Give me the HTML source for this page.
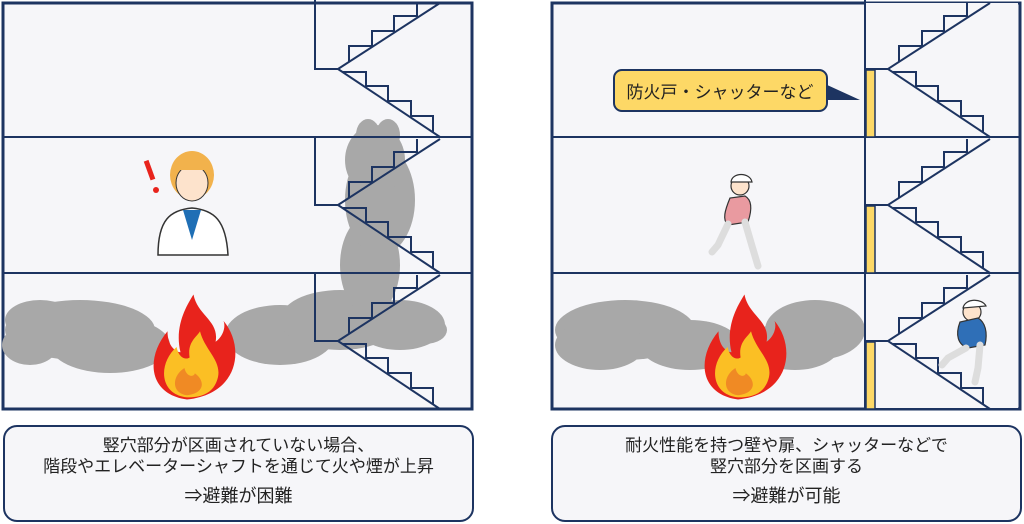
<!DOCTYPE html>
<html><head><meta charset="utf-8"><style>
body{margin:0;width:1024px;height:524px;background:#fff;overflow:hidden;font-family:"Liberation Sans","Noto Sans CJK JP",sans-serif;}
.box{position:absolute;top:425px;height:93px;border:2px solid #1d3461;border-radius:14px;background:#f6f6f9;text-align:center;color:#222;font-size:17px;}
.box .l{line-height:21px}
</style></head><body>
<svg width="1024" height="524" style="position:absolute;left:0;top:0">
<defs>
<g id="st" fill="none" stroke="#1d3461" stroke-width="2">
<polyline points="315,0 315,69 338,69"/>
<line x1="338" y1="69" x2="440" y2="3"/>
<line x1="338" y1="69" x2="440" y2="137"/>
<polyline points="349,62 349,46 372,46 372,31 394,31 394,16 417,16 417,3"/>
<polyline points="343,72 366,72 366,86 388,86 388,101 411,101 411,116 433,116 433,132"/>
</g>
<g id="fire">
<path d="M0,50 C-30,45 -32,10 -15,-15 C-15,0 -8,5 -5,5 C-10,-20 0,-40 5,-50 C8,-30 25,-25 22,-5 C28,-10 30,-20 28,-25 C45,0 40,45 0,50Z" fill="#e8231c"/>
<path d="M0,48 C-22,45 -22,15 -8,0 C-6,12 0,12 2,10 C0,-5 8,-10 10,-15 C14,5 30,15 22,35 C18,45 10,48 0,48Z" fill="#fbbf24"/>
<path d="M0,46 C-12,44 -12,28 -2,20 C0,30 6,28 6,25 C14,32 14,44 0,46Z" fill="#f08a24"/>
</g>
</defs>
<rect x="3" y="3" width="469" height="406" fill="#f6f6f9" stroke="#1d3461" stroke-width="3"/>
<rect x="552" y="3" width="468" height="406" fill="#f6f6f9" stroke="#1d3461" stroke-width="3"/>
<g fill="#a8a8a8">
<ellipse cx="80" cy="330" rx="75" ry="30"/><ellipse cx="40" cy="320" rx="35" ry="20"/><ellipse cx="110" cy="345" rx="60" ry="28"/><ellipse cx="30" cy="345" rx="28" ry="20"/>
<ellipse cx="280" cy="335" rx="55" ry="30"/><ellipse cx="340" cy="320" rx="60" ry="30"/><ellipse cx="400" cy="325" rx="45" ry="25"/><ellipse cx="425" cy="330" rx="22" ry="14"/>
<ellipse cx="370" cy="265" rx="30" ry="50"/><ellipse cx="380" cy="200" rx="35" ry="55"/><ellipse cx="375" cy="160" rx="30" ry="35"/><ellipse cx="368" cy="135" rx="12" ry="16"/><ellipse cx="388" cy="135" rx="12" ry="16"/>
<ellipse cx="625" cy="330" rx="70" ry="30"/><ellipse cx="600" cy="345" rx="45" ry="25"/><ellipse cx="690" cy="345" rx="50" ry="25"/>
<ellipse cx="815" cy="330" rx="50" ry="30"/><ellipse cx="795" cy="345" rx="45" ry="25"/>
</g>
<line x1="3" y1="137" x2="472" y2="137" stroke="#1d3461" stroke-width="2"/>
<line x1="3" y1="273" x2="472" y2="273" stroke="#1d3461" stroke-width="2"/>
<use href="#st"/><use href="#st" y="136"/><use href="#st" y="272"/>
<rect x="866" y="3" width="152" height="405" fill="#f6f6f9"/>
<line x1="552" y1="137" x2="1020" y2="137" stroke="#1d3461" stroke-width="2"/>
<line x1="552" y1="273" x2="1020" y2="273" stroke="#1d3461" stroke-width="2"/>
<line x1="865" y1="3" x2="865" y2="409" stroke="#1d3461" stroke-width="2"/>
<use href="#st" x="550"/><use href="#st" x="550" y="136"/><use href="#st" x="550" y="272"/>
<g fill="#fdd866" stroke="#1d3461" stroke-width="1.5">
<rect x="866" y="70" width="9" height="67"/><rect x="866" y="206" width="9" height="67"/><rect x="866" y="342" width="9" height="67"/>
</g>
<g transform="translate(187,347) scale(1.3,1.05)"><use href="#fire"/></g>
<g transform="translate(738,347) scale(1.3,1.05)"><use href="#fire"/></g>
<polygon points="825,84 860,100 825,100" fill="#1d3461"/>
<rect x="614" y="70" width="213" height="41" rx="8" fill="#fdd866" stroke="#1d3461" stroke-width="2"/>
<text x="720" y="98" text-anchor="middle" font-size="17" fill="#222" font-family="Liberation Sans,Noto Sans CJK JP,sans-serif">防火戸・シャッターなど</text>
<g>
<path d="M158,255 C158,220 170,210 192,208 C214,210 226,220 228,255Z" fill="#fff" stroke="#333" stroke-width="1.5"/>
<path d="M183,210 L192,240 L201,210Z" fill="#1f6fb5"/>
<ellipse cx="192" cy="175" rx="22" ry="24" fill="#f2b24c"/>
<ellipse cx="192" cy="183" rx="16" ry="18" fill="#fde3cc" stroke="#333" stroke-width="1"/>
<path d="M174,170 C180,155 205,155 210,170 Z" fill="#f2b24c"/>
<rect x="147" y="160" width="5" height="20" fill="#e8231c" transform="rotate(-20 150 170)"/>
<circle cx="156" cy="190" r="3" fill="#e8231c"/>
</g>
<g stroke="#333" stroke-width="1.2">
<circle cx="740" cy="186" r="9" fill="#fde3cc"/><path d="M731,182 C732,172 750,172 752,182Z" fill="#fff"/>
<path d="M730,198 C725,210 722,220 728,225 L748,222 C752,210 752,200 745,196Z" fill="#e99aa0"/>
<path d="M728,224 L718,245 L712,252 M745,222 L752,246 L758,266" fill="none" stroke-width="7" stroke-linecap="round" stroke="#ddd"/>
<circle cx="972" cy="312" r="9" fill="#fde3cc"/><path d="M963,308 C965,298 982,298 986,306Z" fill="#fff"/>
<path d="M960,322 C955,335 958,345 968,348 L985,345 C988,332 985,322 978,318Z" fill="#2f6fb7"/>
<path d="M966,348 L948,358 L942,365 M980,345 L978,368 L975,382" fill="none" stroke-width="7" stroke-linecap="round" stroke="#ddd"/>
</g>
</svg>
<div class="box" style="left:3px;width:467px;">
<div class="l" style="margin-top:8px">竪穴部分が区画されていない場合、</div>
<div class="l">階段やエレベーターシャフトを通じて火や煙が上昇</div>
<div class="l" style="margin-top:9px;font-size:18px">⇒避難が困難</div>
</div>
<div class="box" style="left:551px;width:467px;">
<div class="l" style="margin-top:8px">耐火性能を持つ壁や扉、シャッターなどで</div>
<div class="l">竪穴部分を区画する</div>
<div class="l" style="margin-top:9px;font-size:18px">⇒避難が可能</div>
</div>
</body></html>
